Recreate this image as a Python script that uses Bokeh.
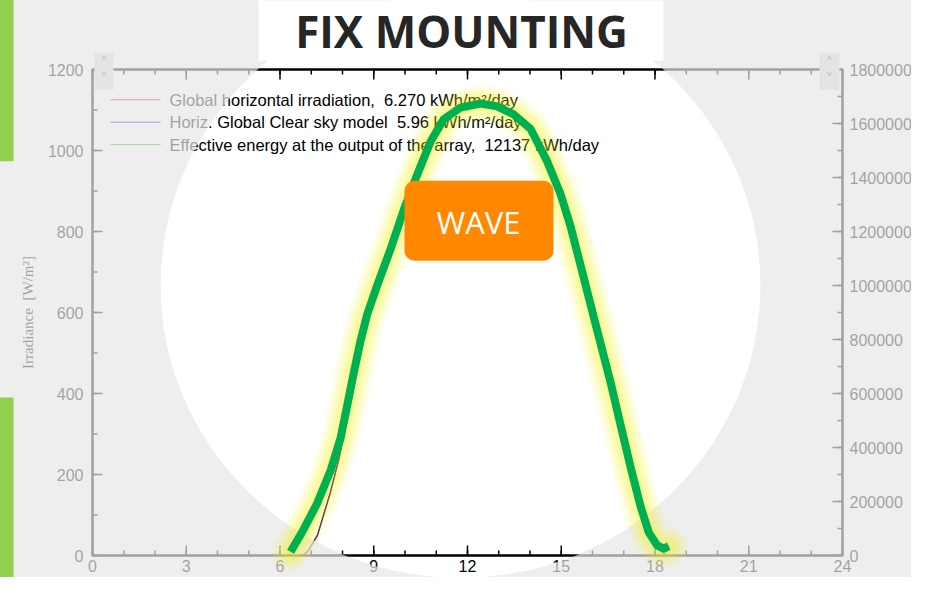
import numpy as np
from bokeh.plotting import figure
from bokeh.models import (Range1d, BoxAnnotation, Label)
from bokeh.core.properties import value
from bokeh.embed import file_html
from bokeh.resources import INLINE

# ---------------- data ----------------
x_ticks = [0, 3, 6, 9, 12, 15, 18, 21, 24]
x_minor = list(range(0, 25))
irr_ticks = [0, 200, 400, 600, 800, 1000, 1200]
irr_minor = list(range(0, 1201, 100))
energy_ticks = [0, 200000, 400000, 600000, 800000, 1000000, 1200000, 1400000, 1600000, 1800000]
energy_minor = list(range(0, 1800001, 100000))

NB = "\u00a0"
title_text = "FIX MOUNTING"
badge_text = "WAVE"
y_label = "Irradiance" + NB + " [W/m²]"
legend_labels = [
    "Global horizontal irradiation," + NB + " 6.270 kWh/m²/day",
    "Horiz. Global Clear sky model" + NB + " 5.96 kWh/m²/day",
    "Effective energy at the output of the array," + NB + " 12137 kWh/day",
]
legend_colors = ["#b00000", "#0000c8", "#00a000"]

# Global horizontal irradiance [W/m2]
ghi_hours = [6.75, 6.9, 7.2, 7.6, 7.9, 8.2, 8.5, 9.0, 9.5, 10.0, 10.5, 11.0, 11.5, 12.0, 12.5,
             13.0, 13.5, 14.0, 14.5, 15.0, 15.5, 16.0, 16.5, 17.0, 17.5, 17.8, 18.1, 18.3]
ghi_values = [0, 10, 48, 150, 240, 360, 495, 635, 745, 858, 958, 1043, 1088, 1107, 1113,
              1105, 1086, 1052, 978, 885, 750, 600, 450, 288, 131, 55, 20, 0]
# Clear sky model [W/m2]
clear_hours = [6.7, 6.9, 7.2, 7.6, 7.9, 8.2, 8.5, 9.0, 9.5, 10.0, 10.5, 11.0, 11.5, 12.0, 12.5,
               13.0, 13.5, 14.0, 14.5, 15.0, 15.5, 16.0, 16.5, 17.0, 17.5, 17.8, 18.1, 18.35]
clear_values = [0, 12, 52, 155, 245, 364, 498, 638, 748, 860, 960, 1045, 1090, 1109, 1115,
                1107, 1088, 1054, 980, 887, 752, 602, 452, 290, 133, 57, 22, 0]
# Effective energy at array output (right axis)
energy_hours = [0.5, 6.3, 6.6, 7.0, 7.5, 8.0, 8.5, 9.0, 9.5, 10.0, 10.5, 11.0, 11.5, 12.0,
                12.5, 13.0, 13.5, 14.0, 14.5, 15.0, 15.5, 16.0, 16.5, 17.0, 17.5, 18.0, 18.4, 23.5]
energy_values = [0, 0, 66000, 152000, 281000, 469000, 753000, 963000, 1123000, 1292000,
                 1441000, 1569000, 1637000, 1664000, 1673000, 1661000, 1632000, 1581000,
                 1470000, 1331000, 1128000, 902000, 677000, 435000, 200000, 50000, 0, 0]
# Highlighted "wave" curve (left axis units)
wave_hours = [6.34, 6.76, 7.19, 7.62, 7.94, 8.15, 8.36, 8.58, 8.79, 9.11, 9.54, 9.96, 10.39,
              10.82, 11.24, 11.78, 12.42, 12.95, 13.48, 14.02, 14.55, 14.98, 15.30, 15.62,
              15.94, 16.26, 16.58, 16.90, 17.22, 17.54, 17.80, 18.07, 18.28, 18.44]
wave_values = [9, 65, 129, 210, 290, 370, 451, 531, 595, 667, 757, 853, 940, 1022, 1077,
               1106, 1116, 1109, 1089, 1053, 973, 892, 812, 716, 619, 523, 427, 322, 218,
               121, 57, 25, 17, 23]

# ---------------- layout helpers ----------------
W, H = 911, 577
FL, FR, FT, FB = 92, 842, 69, 555          # plot-area edges in canvas pixels
XPU = (FR - FL) / 24.0                      # pixels per hour
YPU = (FB - FT) / 1200.0                    # pixels per W/m2
E_PER_IRR = 1800000 / 1200.0

def dx(px):   # reference pixel -> hours
    return (np.asarray(px, dtype=float) - 92) / 31.25

def dy(py):   # reference pixel -> W/m2
    return (567 - np.asarray(py, dtype=float)) / 0.415

BG = "#eeeeee"
y0, y1 = -(H - FB) / YPU, FB / YPU
p = figure(width=W, height=H,
           x_range=Range1d(-FL / XPU, (W - FL) / XPU),
           y_range=Range1d(y0, y1),
           x_axis_location=None, y_axis_location=None,
           output_backend="svg", toolbar_location=None, min_border=0,
           background_fill_color=BG, border_fill_color=BG, outline_line_color=None)
p.extra_y_ranges = {"energy": Range1d(y0 * E_PER_IRR, y1 * E_PER_IRR)}
p.grid.visible = False

# white circle behind everything
theta = np.linspace(0, 2 * np.pi, 361)
cpx = 460 - 300 * np.sin(theta)
cpy = 290 - 300 * np.cos(theta)
p.patch(list(dx(cpx)), list(dy(cpy)), fill_color="white", line_color=None)

# thin series
p.line(ghi_hours, ghi_values, line_color=legend_colors[0], line_width=1)
p.line(clear_hours, clear_values, line_color=legend_colors[1], line_width=1)
p.line(energy_hours, energy_values, line_color=legend_colors[2], line_width=1,
       y_range_name="energy")

# ---------------- axes (frame, ticks, labels) ----------------
AX = "black"
FONT = value("Liberation Sans")
p.quad(left=x_ticks[0], right=x_ticks[-1], bottom=irr_ticks[0], top=irr_ticks[-1],
       fill_alpha=0, line_color=AX, line_width=2.5)
nx, nxm = len(x_ticks), len(x_minor)
p.ray(x=x_minor, y=[irr_ticks[0]] * nxm, length=5, angle=np.pi / 2, length_units="screen",
      line_color=AX, line_width=1.5)
p.ray(x=x_ticks, y=[irr_ticks[0]] * nx, length=10, angle=np.pi / 2, length_units="screen",
      line_color=AX, line_width=1.5)
p.ray(x=x_minor, y=[irr_ticks[-1]] * nxm, length=5, angle=-np.pi / 2, length_units="screen",
      line_color=AX, line_width=1.5)
p.ray(x=x_ticks, y=[irr_ticks[-1]] * nx, length=10, angle=-np.pi / 2, length_units="screen",
      line_color=AX, line_width=1.5)
p.ray(x=[x_ticks[0]] * len(irr_minor), y=irr_minor, length=5, angle=0, length_units="screen",
      line_color=AX, line_width=1.5)
p.ray(x=[x_ticks[0]] * len(irr_ticks), y=irr_ticks, length=10, angle=0, length_units="screen",
      line_color=AX, line_width=1.5)
p.ray(x=[x_ticks[-1]] * len(energy_minor), y=energy_minor, length=5, angle=np.pi,
      length_units="screen", line_color=AX, line_width=1.5, y_range_name="energy")
p.ray(x=[x_ticks[-1]] * len(energy_ticks), y=energy_ticks, length=10, angle=np.pi,
      length_units="screen", line_color=AX, line_width=1.5, y_range_name="energy")
p.text(x=x_ticks, y=[irr_ticks[0]] * nx, text=[str(t) for t in x_ticks], text_align="center",
       text_baseline="top", y_offset=4, text_font=FONT, text_font_size="16px", text_color=AX)
p.text(x=[x_ticks[0]] * len(irr_ticks), y=irr_ticks, text=[str(t) for t in irr_ticks],
       text_align="right", text_baseline="middle", x_offset=-9, text_font=FONT,
       text_font_size="16px", text_color=AX)
p.text(x=[x_ticks[-1]] * len(energy_ticks), y=energy_ticks, text=[str(t) for t in energy_ticks],
       text_align="left", text_baseline="middle", x_offset=7, text_font=FONT,
       text_font_size="16px", text_color=AX, y_range_name="energy")
p.text(x=[float(dx(27))], y=[(irr_ticks[0] + irr_ticks[-1]) / 2], text=[y_label],
       angle=np.pi / 2, text_align="center", text_baseline="middle",
       text_font=value("Liberation Serif"), text_font_size="15px", text_color=AX)

# legend (drawn as glyphs so that it sits beneath the fade layer)
leg_rows = list(dy([100, 123, 146]))
p.segment(x0=[float(dx(110))] * 3, x1=[float(dx(160))] * 3, y0=leg_rows, y1=leg_rows,
          line_color=legend_colors, line_width=1)
p.text(x=[float(dx(169))] * 3, y=leg_rows, text=legend_labels, text_align="left",
       text_baseline="middle", text_font=FONT, text_font_size="16.5px", text_color="black")

# ---------------- fade outside the circle ----------------
ox = [-60, 980, 980, -60]
oy = [-60, -60, 660, 660]
p.multi_polygons(xs=[[[list(dx(ox)), list(dx(cpx[:-1]))]]],
                 ys=[[[list(dy(oy)), list(dy(cpy[:-1]))]]],
                 fill_color=BG, fill_alpha=0.68, line_color=None, level="overlay")

# glow + wave
for w in [38, 33, 28, 23, 19, 15, 11]:
    p.line(wave_hours, wave_values, line_color="#f0f000", line_alpha=0.075, line_width=w,
           line_join="round", line_cap="round", level="overlay")
p.line(wave_hours, wave_values, line_color="#00b050", line_width=8,
       line_join="round", line_cap="butt", level="overlay")

# side bars and scroll buttons
p.quad(left=[float(dx(-30))] * 2, right=[float(dx(13))] * 2,
       top=[float(dy(-30)), float(dy(405))], bottom=[float(dy(163)), float(dy(640))],
       fill_color="#92d050", line_color=None, level="overlay")
btn_l = [94, 819]
btn_r = [113, 839]
p.quad(left=list(dx(btn_l)), right=list(dx(btn_r)), top=[float(dy(52))] * 2,
       bottom=[float(dy(90))] * 2, fill_color="#e4e4e4", line_color=None, level="overlay")

# title + badge
p.add_layout(BoxAnnotation(left=float(dx(258)), right=float(dx(663)), top=float(dy(-30)),
                           bottom=float(dy(60)), fill_color="white", fill_alpha=1,
                           line_color=None, level="overlay"))
p.add_layout(Label(x=float(dx(461)), y=float(dy(30)), text=title_text, text_font="Open Sans",
                   text_font_style="bold", text_font_size="44px", text_color="#262626",
                   text_align="center", text_baseline="middle", level="overlay"))
for bl, br in zip(btn_l, btn_r):
    for ch, yy in [("˄", 63), ("˅", 80)]:
        p.add_layout(Label(x=float(dx((bl + br) / 2)), y=float(dy(yy)), text=ch,
                           text_font="DejaVu Sans", text_font_size="15px",
                           text_color="#c4c4c4", text_align="center",
                           text_baseline="middle", level="overlay"))
p.add_layout(BoxAnnotation(left=float(dx(404)), right=float(dx(553)), top=float(dy(183)),
                           bottom=float(dy(265)), fill_color="#ff8800", fill_alpha=1,
                           line_color=None, border_radius=10, level="overlay"))
p.add_layout(Label(x=float(dx(478)), y=float(dy(225)), text=badge_text, text_font="Open Sans",
                   text_font_size="31px", text_color="white", text_align="center",
                   text_baseline="middle", level="overlay"))

open("out.html", "w").write(file_html(p, INLINE))
